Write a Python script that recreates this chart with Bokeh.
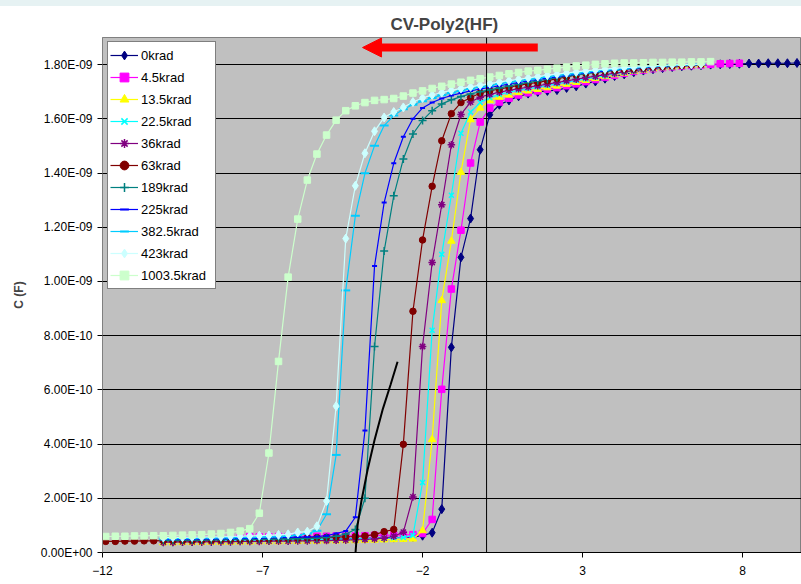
import numpy as np
from bokeh.plotting import figure
from bokeh.models import (Range1d, FixedTicker, CustomJSTickFormatter, Span, Arrow,
                          NormalHead, Legend, LegendItem, Div, ColumnDataSource)
from bokeh.layouts import column
from bokeh.embed import file_html
from bokeh.resources import INLINE

# ---------------- data ----------------
voltage = [-11.9, -11.6, -11.3, -11.0, -10.7, -10.4, -10.1, -9.8, -9.5, -9.2,
           -8.9, -8.6, -8.3, -8.0, -7.7, -7.4, -7.1, -6.8, -6.5, -6.2,
           -5.9, -5.6, -5.3, -5.0, -4.7, -4.4, -4.1, -3.8, -3.5, -3.2,
           -2.9, -2.6, -2.3, -2.0, -1.7, -1.4, -1.1, -0.8, -0.5, -0.2,
           0.1, 0.4, 0.7, 1.0, 1.3, 1.6, 1.9, 2.2, 2.5, 2.8,
           3.1, 3.4, 3.7, 4.0, 4.3, 4.6, 4.9, 5.2, 5.5, 5.8,
           6.1, 6.4, 6.7, 7.0, 7.3, 7.6, 7.9, 8.2, 8.5, 8.8,
           9.1, 9.4, 9.7]

x_ticks = [-12, -7, -2, 3, 8]
c_ticks = [0.0, 2e-10, 4e-10, 6e-10, 8e-10, 1.0e-9, 1.2e-9, 1.4e-9, 1.6e-9, 1.8e-9]

series_names = ["0krad", "4.5krad", "13.5krad", "22.5krad", "36krad", "63krad",
                "189krad", "225krad", "382.5krad", "423krad", "1003.5krad"]
first_voltage = [-10.1, -9.8, -10.1, -10.1, -10.1, -11.9, -10.1, -10.1, -10.1, -10.1, -11.9]
last_voltage = [9.7, 7.9, 6.7, 6.7, 6.7, 6.7, 6.7, 6.7, 6.7, 6.7, 7.0]

# capacitance in pF
c_0krad = [40, 40, 41, 41, 42, 42, 43, 43, 44, 44,
           45, 45, 46, 46, 47, 47, 48, 48, 49, 50,
           51, 52, 53, 54, 55, 56, 58, 62,
           73, 160, 757, 1089, 1232, 1486, 1615, 1652, 1668, 1683,
           1693, 1699, 1703, 1706, 1714, 1720, 1730, 1738, 1748, 1758,
           1764, 1772, 1778, 1783, 1787, 1791, 1794, 1796, 1798, 1800,
           1801, 1802, 1803, 1804, 1804, 1805, 1805, 1805, 1806]
c_4_5krad = [55, 55, 56, 56, 56, 57, 57, 57, 58, 58,
             58, 59, 59, 59, 60, 60, 60, 61, 61, 62,
             62, 63, 63, 64, 65, 66, 70,
             122, 602, 972, 1189, 1437, 1588, 1640, 1662, 1676, 1688,
             1696, 1703, 1709, 1715, 1722, 1729, 1737, 1745, 1753, 1761,
             1768, 1775, 1780, 1785, 1789, 1792, 1795, 1797, 1799, 1801,
             1803, 1804, 1805]
c_13_5krad = [36, 36, 37, 37, 37, 38, 38, 38, 39, 39,
              40, 40, 40, 41, 41, 42, 42, 43, 43, 44,
              44, 45, 46, 47, 48, 49, 50, 81,
              417, 930, 1149, 1403, 1597, 1640, 1668, 1680, 1688, 1697,
              1703, 1709, 1715, 1721, 1728, 1735, 1742, 1749, 1756, 1763,
              1769, 1775, 1780, 1785, 1789, 1792, 1795, 1797, 1799]
c_22_5krad = [42, 42, 43, 43, 43, 44, 44, 44, 45, 45,
              45, 46, 46, 46, 47, 47, 48, 48, 49, 49,
              50, 51, 52, 53, 54, 55, 63, 258,
              820, 1100, 1318, 1547, 1625, 1660, 1678, 1690, 1698, 1705,
              1711, 1717, 1723, 1729, 1735, 1741, 1747, 1753, 1759, 1765,
              1771, 1776, 1781, 1785, 1789, 1792, 1795, 1797, 1799]
c_36krad = [38, 38, 39, 39, 39, 40, 40, 40, 41, 41,
            41, 42, 42, 42, 43, 43, 44, 44, 45, 46,
            47, 48, 50, 53, 60, 75, 205, 760,
            1070, 1283, 1504, 1616, 1662, 1680, 1690, 1698, 1705, 1711,
            1717, 1722, 1728, 1734, 1740, 1746, 1752, 1757, 1763, 1768,
            1773, 1778, 1782, 1786, 1790, 1793, 1795, 1797, 1799]
c_63krad = [41, 41, 42, 42, 43, 43, 44, 44, 45, 45,
            46, 46, 47, 48, 48, 49, 50, 50, 51, 52,
            53, 54, 55, 56, 57, 58, 59, 61, 66, 77,
            85,
            399, 890, 1153, 1351, 1519, 1619, 1660, 1678, 1695, 1704,
            1709, 1717, 1723, 1730, 1734, 1741, 1748, 1755, 1762, 1768,
            1772, 1776, 1779, 1783, 1785, 1788, 1791, 1793, 1795, 1797,
            1799, 1800]
c_189krad = [45, 45, 46, 46, 46, 47, 47, 48, 48, 48,
             49, 49, 50, 50, 51, 52, 53, 55, 60, 68, 85,
             200, 760, 1112, 1316, 1452, 1544, 1594, 1630, 1655, 1670,
             1682, 1692, 1700, 1707, 1714, 1721, 1728, 1734, 1740, 1746,
             1752, 1757, 1762, 1767, 1771, 1775, 1779, 1783, 1786, 1789,
             1792, 1794, 1796, 1798, 1800, 1801]
c_225krad = [48, 48, 49, 49, 50, 50, 51, 51, 52, 52,
             53, 54, 55, 56, 57, 58, 59, 62, 70, 79, 130,
             450, 1057, 1291, 1436, 1534, 1600, 1640, 1660, 1675, 1686,
             1695, 1703, 1710, 1716, 1722, 1728, 1734, 1740, 1745, 1750,
             1755, 1760, 1765, 1769, 1773, 1777, 1781, 1784, 1787, 1790,
             1793, 1795, 1797, 1799, 1800, 1801]
c_382_5krad = [52, 52, 53, 53, 54, 54, 55, 55, 56, 56,
               57, 58, 59, 61, 64, 70, 80,
               141, 360, 967, 1242, 1399, 1501, 1575, 1612, 1635, 1652,
               1665, 1677, 1687, 1696, 1704, 1711, 1717, 1723, 1729, 1735,
               1740, 1745, 1750, 1755, 1760, 1764, 1768, 1772, 1776, 1780,
               1783, 1786, 1789, 1792, 1794, 1796, 1798, 1799, 1800, 1801]
c_423krad = [55, 56, 56, 57, 57, 58, 58, 59, 60, 61,
             62, 63, 65, 67, 74, 77, 97,
             190, 540, 1158, 1353, 1473, 1554, 1605, 1625, 1642, 1662,
             1677, 1688, 1697, 1705, 1712, 1718, 1724, 1730, 1736, 1741,
             1746, 1751, 1756, 1761, 1765, 1769, 1773, 1777, 1780, 1783,
             1786, 1789, 1791, 1793, 1795, 1797, 1799, 1800, 1801, 1802]
c_1003_5krad = [59, 60, 60, 61, 61, 62, 62, 63, 64, 65,
                66, 68, 70, 74, 79, 88,
                145, 367, 705, 1016, 1230, 1374, 1470, 1540, 1595, 1630,
                1648, 1660, 1668, 1671, 1675, 1684, 1695, 1703, 1712, 1720,
                1728, 1735, 1742, 1748, 1754, 1760, 1766, 1771, 1776, 1779,
                1783, 1787, 1791, 1795, 1798, 1801, 1803, 1805, 1806, 1806,
                1807, 1808, 1808, 1809, 1809, 1810, 1810, 1811]

capacitance_pF = [c_0krad, c_4_5krad, c_13_5krad, c_22_5krad, c_36krad, c_63krad,
                  c_189krad, c_225krad, c_382_5krad, c_423krad, c_1003_5krad]

# hand-drawn black guide curve (V, pF)
guide_v = [-4.125, -4.094, -4.031, -3.906, -3.719, -3.5, -3.25, -3.0, -2.781]
guide_pF = [-119, 0, 100, 193, 304, 415, 526, 619, 704]

# red arrow (V, F)
arrow_tail_v, arrow_tip_v, arrow_c = 1.6, -3.875, 1.863e-9

# ---------------- styles ----------------
colors = ["#000080", "#FF00FF", "#FFFF00", "#00FFFF", "#800080", "#800000",
          "#008080", "#0000FF", "#00CCFF", "#CCFFFF", "#CCFFCC"]
markers = ["diamond", "square", "triangle", "x", "asterisk", "circle",
           "cross", "dash", "dash", "diamond", "square"]
msizes = [9, 6.5, 7.5, 7, 7.5, 6.5, 8, 5, 9, 9, 6.5]
legend_msizes = [8, 6, 7, 6, 6.5, 6, 7, 4.5, 8, 8, 6]
mwidths = [1, 1, 1, 1.5, 1.5, 1, 1.5, 2, 2, 1, 1]

FONT = "Liberation Sans"

p = figure(width=801, height=578, output_backend="svg", toolbar_location=None,
           x_range=Range1d(-12, 9.84), y_range=Range1d(0, 1.9e-9),
           min_border_left=102, min_border_right=0, min_border_top=31, min_border_bottom=32,
           background_fill_color="#C0C0C0", border_fill_color="white",
           outline_line_color="#808080", title="CV-Poly2(HF)")

p.title.text_font = FONT
p.title.text_font_size = "17px"
p.title.text_font_style = "bold"
p.title.align = "left"
p.title.offset = 288
p.title.standoff = 7

p.xaxis.ticker = FixedTicker(ticks=x_ticks)
p.yaxis.ticker = FixedTicker(ticks=c_ticks)
p.yaxis.formatter = CustomJSTickFormatter(code="""
const s = tick.toExponential(2);
const parts = s.split('e');
const e = parseInt(parts[1]);
const a = Math.abs(e);
return parts[0] + 'E' + (e < 0 ? '-' : '+') + (a < 10 ? '0' + a : String(a));
""")
for ax in (p.xaxis[0], p.yaxis[0]):
    ax.major_label_text_font = FONT
    ax.major_label_text_font_size = "12px"
    ax.major_label_text_color = "black"
    ax.major_tick_in = 0
    ax.major_tick_out = 5
    ax.major_tick_line_color = "black"
    ax.minor_tick_line_color = None
p.xaxis.axis_line_color = "black"
p.yaxis.axis_line_color = "#808080"
p.xaxis.major_label_standoff = 8
p.yaxis.major_label_standoff = 5
p.yaxis.axis_label = "C (F)"
p.yaxis.axis_label_text_font = FONT
p.yaxis.axis_label_text_font_size = "12px"
p.yaxis.axis_label_text_font_style = "bold"
p.yaxis.axis_label_standoff = 12

p.xgrid.visible = False
p.ygrid.grid_line_color = "black"
p.ygrid.grid_line_width = 1

p.add_layout(Span(location=0, dimension="height", line_color="black", line_width=1))

items = []
for name, v0, v1, cvals, col, mk, ms, lms, mw in zip(series_names, first_voltage, last_voltage,
                                                    capacitance_pF, colors, markers, msizes,
                                                    legend_msizes, mwidths):
    i0 = voltage.index(v0)
    xs = voltage[i0:i0 + len(cvals)]
    if len(xs) != len(cvals) or abs(xs[-1] - v1) > 1e-9:
        raise ValueError("length mismatch for " + name + f" {len(cvals)} {xs[-1]}")
    src = ColumnDataSource(dict(v=xs, c=[q * 1e-12 for q in cvals]))
    rl = p.line("v", "c", source=src, line_color=col, line_width=1.2)
    p.scatter("v", "c", source=src, marker=mk, size=ms, fill_color=col,
              line_color=col, line_width=mw)
    # legend-only glyph (one NaN point, never drawn in the plot) with a smaller marker
    legsrc = ColumnDataSource(dict(v=[float("nan")], c=[float("nan")]))
    rleg = p.scatter("v", "c", source=legsrc, marker=mk, size=lms, fill_color=col,
                     line_color=col, line_width=mw)
    items.append(LegendItem(label=name, renderers=[rl, rleg]))

p.line(guide_v, [q * 1e-12 for q in guide_pF], line_color="black", line_width=2)

p.add_layout(Arrow(end=NormalHead(size=19, fill_color="red", line_color="red"),
                   x_start=arrow_tail_v, y_start=arrow_c, x_end=arrow_tip_v, y_end=arrow_c,
                   line_color="red", line_width=8))

legend = Legend(items=items, location=(5, 263), margin=0, padding=2, spacing=0,
                glyph_width=28, glyph_height=22, label_height=22, label_width=72,
                label_standoff=3, label_text_font=FONT, label_text_font_size="13px",
                label_text_color="black", background_fill_color="white",
                background_fill_alpha=1, border_line_color="black", border_line_width=1)
p.add_layout(legend)

strip = Div(text="", width=801, height=6, margin=0,
            styles={"background-color": "#E6F2F3"})
layout = column(strip, p, spacing=0, margin=0)

open("out.html", "w").write(file_html(layout, INLINE))
